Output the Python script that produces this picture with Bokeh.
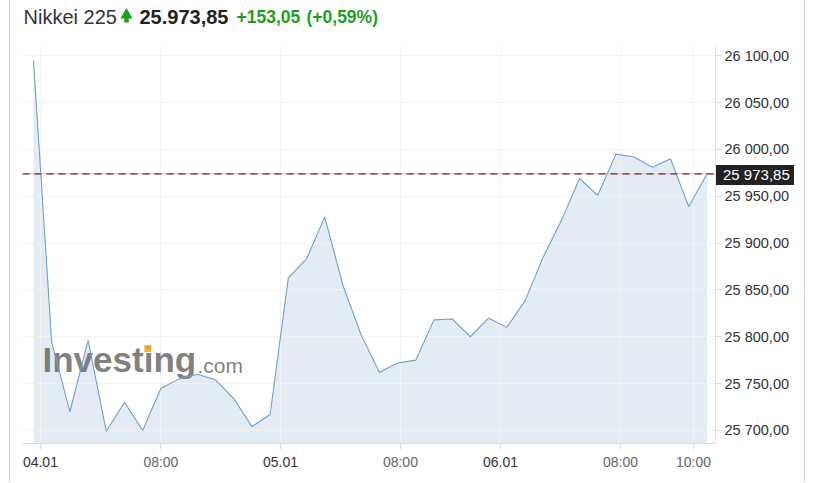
from bokeh.plotting import figure
from bokeh.layouts import column
from bokeh.models import Range1d, FixedTicker, Span, Label, Div
from bokeh.embed import file_html
from bokeh.resources import INLINE

# ---- data ----
prices = [26095, 25794, 25720, 25796, 25699, 25730, 25700, 25745, 25755, 25760,
          25754, 25734, 25704, 25717, 25863, 25883, 25928, 25855, 25802, 25762,
          25772, 25775, 25818, 25819, 25800, 25820, 25810, 25838, 25885, 25924,
          25969, 25951, 25995, 25992, 25981, 25990, 25939, 25973.85]
idx = list(range(len(prices)))
last_price = 25973.85
last_label = "25 973,85"

y_ticks = [25700, 25750, 25800, 25850, 25900, 25950, 26000, 26050, 26100]
y_tick_labels = ["25 700,00", "25 750,00", "25 800,00", "25 850,00", "25 900,00",
                 "25 950,00", "26 000,00", "26 050,00", "26 100,00"]

hour_ticks = [7, 20.16, 32.25, 36.26]
hour_labels = ["08:00", "08:00", "08:00", "10:00"]
day_ticks = [0.38, 13.57, 25.66]
day_labels = ["04.01", "05.01", "06.01"]

title_name = "Nikkei 225"
title_price = "25.973,85"
title_change = "+153,05"
title_pct = "(+0,59%)"

X_MIN, X_MAX = -0.604, 37.47
Y_MIN, Y_MAX = 25686, 26111
PAGE_H = 482
MARGIN_L = 9
FIG_W = 796
FRAME_L, FRAME_T = 12, 45          # inside main canvas
FRAME_W, FRAME_H = 693, 398
FONT = "Liberation Sans"
GREEN = "#1f9e1f"

CANVAS_LEFT_PAGE = MARGIN_L + 1
FRAME_LEFT_PAGE = CANVAS_LEFT_PAGE + FRAME_L
FRAME_RIGHT_PAGE = FRAME_LEFT_PAGE + FRAME_W

# ---------------- main chart ----------------
p = figure(width=FIG_W, height=PAGE_H, output_backend="svg", toolbar_location=None,
           x_range=Range1d(X_MIN, X_MAX), y_range=Range1d(Y_MIN, Y_MAX),
           y_axis_location="right",
           min_border_left=FRAME_L, min_border_right=FIG_W - FRAME_L - FRAME_W,
           min_border_top=FRAME_T, min_border_bottom=PAGE_H - FRAME_T - FRAME_H)
p.styles = {"margin-left": f"{MARGIN_L}px",
            "border-left": "1px solid #cfcfcf", "border-right": "1px solid #cfcfcf"}
p.outline_line_color = None
p.background_fill_color = "white"
p.border_fill_color = "white"

area = p.varea(x=idx, y1=[Y_MIN] * len(idx), y2=prices, fill_color="#e3ecf5")
area.level = "image"

# watermark (screen units measured from the frame's bottom-left)
p.add_layout(Label(x=20, y=84, x_units="screen", y_units="screen", text="Investing",
                   text_font=FONT, text_font_style="bold", text_font_size="35px",
                   text_color="#6a6a6a", text_alpha=0.85, text_baseline="middle",
                   level="underlay"))
p.add_layout(Label(x=175, y=78, x_units="screen", y_units="screen", text=".com",
                   text_font=FONT, text_font_size="21px",
                   text_color="#6a6a6a", text_alpha=0.85, text_baseline="middle",
                   level="underlay"))
p.add_layout(Label(x=121, y=96, x_units="screen", y_units="screen", text="\u25a0",
                   text_font="DejaVu Sans", text_font_size="9px",
                   text_color="#f5a623", text_alpha=0.9, text_baseline="middle",
                   level="underlay"))

p.line(idx, prices, line_color="#6f9fca", line_width=1.1)

p.xgrid.ticker = FixedTicker(ticks=day_ticks + hour_ticks)
p.xgrid.grid_line_color = "#f2f2f2"
p.ygrid.grid_line_color = "#f2f2f2"

p.yaxis.ticker = FixedTicker(ticks=y_ticks)
p.yaxis.major_label_overrides = {t: l for t, l in zip(y_ticks, y_tick_labels)}
p.yaxis.major_label_text_font = FONT
p.yaxis.major_label_text_font_size = "14.5px"
p.yaxis.major_label_text_color = "#333333"
p.yaxis.axis_line_color = "#e6e6e6"
p.yaxis.major_tick_line_color = "#d8d8d8"
p.yaxis.major_tick_out = 6
p.yaxis.major_tick_in = 0
p.yaxis.minor_tick_line_color = None
p.yaxis.major_label_standoff = 3

p.xaxis.ticker = FixedTicker(ticks=day_ticks + hour_ticks)
overrides = {t: l for t, l in zip(hour_ticks, hour_labels)}
overrides.update({t: "" for t in day_ticks})
p.xaxis.major_label_overrides = overrides
p.xaxis.major_label_text_font = FONT
p.xaxis.major_label_text_font_size = "14px"
p.xaxis.major_label_text_color = "#666666"
p.xaxis.axis_line_color = "#d6dde8"
p.xaxis.major_tick_line_color = "#d6dde8"
p.xaxis.major_tick_out = 6
p.xaxis.major_tick_in = 0
p.xaxis.minor_tick_line_color = None
p.xaxis.major_label_standoff = 4

p.add_layout(Span(location=last_price, dimension="width", line_color="#f2b0b0",
                  line_width=1))
p.add_layout(Span(location=last_price, dimension="width", line_color="#5a3535",
                  line_width=1.3, line_dash="7 5"))

# ---------------- transparent overlay (same box as the chart; page coordinates) ----------------
o = figure(width=FIG_W, height=PAGE_H, output_backend="svg", toolbar_location=None,
           x_range=Range1d(FRAME_LEFT_PAGE, FRAME_RIGHT_PAGE), y_range=Range1d(PAGE_H, 0),
           x_axis_type=None, y_axis_type=None,
           min_border_left=0, min_border_right=0, min_border_top=0, min_border_bottom=0)
o.grid.visible = False
o.outline_line_color = None
o.background_fill_alpha = 0
o.border_fill_alpha = 0
o.styles = {"position": "absolute", "left": f"{CANVAS_LEFT_PAGE}px", "top": "0px",
            "pointer-events": "none"}


def page_x(v):
    return FRAME_LEFT_PAGE + (v - X_MIN) / (X_MAX - X_MIN) * FRAME_W


def page_y(v):
    return FRAME_T + (Y_MAX - v) / (Y_MAX - Y_MIN) * FRAME_H


ty = 16
o.add_layout(Label(x=23, y=ty, text=title_name, text_font=FONT,
                   text_font_size="20px", text_color="#333333", text_baseline="middle"))
# up-arrow icon
o.scatter(x=[126], y=[14.5], marker="triangle", size=12, fill_color=GREEN,
          line_color=None)
o.rect(x=[126], y=[19.5], width=4.5, height=5, fill_color=GREEN, line_color=None)
o.add_layout(Label(x=139, y=ty, text=title_price, text_font=FONT,
                   text_font_size="20px", text_font_style="bold",
                   text_color="#222222", text_baseline="middle"))
o.add_layout(Label(x=236, y=ty, text=title_change, text_font=FONT,
                   text_font_size="17.5px", text_font_style="bold",
                   text_color=GREEN, text_baseline="middle"))
o.add_layout(Label(x=306, y=ty, text=title_pct, text_font=FONT,
                   text_font_size="17.5px", text_font_style="bold",
                   text_color=GREEN, text_baseline="middle"))

for t, l in zip(day_ticks, day_labels):
    o.add_layout(Label(x=page_x(t), y=461, text=l, text_font=FONT,
                       text_font_size="14px", text_color="#333333",
                       text_align="center", text_baseline="middle"))

# current-price tag on the right axis
box_top = round(page_y(last_price) - 8.5)
tag = Div(text=last_label, width=78, height=20,
          styles={"position": "absolute", "left": f"{FRAME_RIGHT_PAGE + 1}px",
                  "top": f"{box_top}px", "margin": "0px",
                  "background-color": "#222222",
                  "color": "white", "font-family": FONT, "font-size": "15px",
                  "line-height": "20px", "padding": "0px 0px 0px 7px",
                  "box-sizing": "border-box", "white-space": "nowrap"})

layout = column(p, o, tag)
layout.styles = {"position": "relative"}

open("out.html", "w").write(file_html(layout, INLINE))
